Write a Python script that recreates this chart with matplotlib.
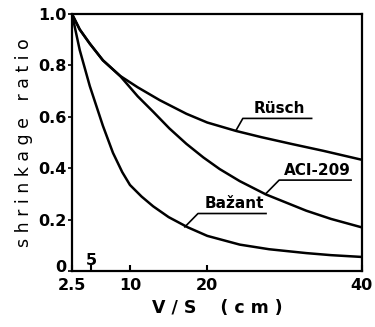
import matplotlib
matplotlib.use("Agg")
import matplotlib.pyplot as plt
from matplotlib.transforms import ScaledTranslation

# Data
rusch_x = [2.5, 3.5, 4.8, 6.5, 8.7, 11.0, 13.85, 17.3, 20.0, 23.75, 27.0, 31.0, 35.0, 40.0]
rusch_y = [1.0, 0.94, 0.885, 0.82, 0.76, 0.715, 0.665, 0.612, 0.578, 0.545, 0.521, 0.494, 0.468, 0.433]

aci_x = [2.5, 3.5, 4.8, 6.5, 8.7, 11.0, 13.0, 15.1, 17.3, 19.5, 21.6, 24.2, 27.6, 32.8, 36.0, 40.0]
aci_y = [1.0, 0.94, 0.885, 0.82, 0.76, 0.68, 0.62, 0.555, 0.495, 0.442, 0.397, 0.35, 0.298, 0.235, 0.203, 0.17]

bazant_x = [2.5, 3.5, 4.8, 6.5, 7.8, 9.0, 10.0, 11.5, 13.0, 15.0, 17.5, 20.0, 24.2, 28.0, 32.8, 36.0, 40.0]
bazant_y = [1.0, 0.86, 0.72, 0.565, 0.46, 0.385, 0.335, 0.29, 0.252, 0.21, 0.17, 0.137, 0.103, 0.085, 0.07, 0.062, 0.055]

xtick_vals = [2.5, 10, 20, 40]
xtick_labels = ["2.5", "10", "20", "40"]
ytick_vals = [0, 0.2, 0.4, 0.6, 0.8, 1.0]
ytick_labels = ["0", "0.2", "0.4", "0.6", "0.8", "1.0"]

# label annotations: (text, curve point, knee point, underline end)
labels = [
    ("Rüsch", (23.75, 0.549), (24.6, 0.594), 33.5),
    ("ACI-209", (27.6, 0.302), (29.3, 0.354), 38.6),
    ("Bažant", (17.1, 0.172), (18.8, 0.224), 27.6),
]

plt.rcParams['font.family'] = ['DejaVu Sans']
fig = plt.figure(figsize=(3.75, 3.27), dpi=100)
ax = fig.add_axes([0.192, 0.171, 0.773, 0.786])

lw = 1.8
for xs, ys in [(rusch_x, rusch_y), (aci_x, aci_y), (bazant_x, bazant_y)]:
    ax.plot(xs, ys, color='black', lw=lw, solid_joinstyle='round')

for txt, p0, p1, xend in labels:
    ax.plot([p0[0], p1[0], xend], [p0[1], p1[1], p1[1]], color='black', lw=1.2)
    ax.text((p1[0] + xend) / 2 + 0.3, p1[1] + 0.008, txt, ha='center', va='bottom',
            fontsize=11, fontweight='bold')

ax.set_xlim(2.5, 40)
ax.set_ylim(0, 1.0)
ax.set_xticks(xtick_vals)
ax.set_xticklabels(xtick_labels, fontsize=11.5, fontweight='bold')
ax.set_yticks(ytick_vals)
ax.set_yticklabels(ytick_labels, fontsize=11.5, fontweight='bold')
ax.tick_params(axis='x', direction='in', length=4, width=1.5, pad=5)
ax.tick_params(axis='y', direction='out', length=3, width=1.2, pad=1)
ax.set_xticks([5], minor=True)
ax.tick_params(axis='x', which='minor', direction='in', length=4, width=1.5)
ax.text(5, 0.012, "5", ha='center', va='bottom', fontsize=11.5, fontweight='bold')

for lab in ax.get_yticklabels():
    if lab.get_text() == "0":
        lab.set_transform(lab.get_transform() + ScaledTranslation(0, 0.05, fig.dpi_scale_trans))

for s in ax.spines.values():
    s.set_linewidth(1.6)

ax.set_ylabel("s h r i n k a g e   r a t i o", fontsize=12.5, labelpad=4)
ax.set_xlabel("V / S    ( c m )", fontsize=12.5, fontweight='bold', labelpad=4)

fig.savefig("out.png", dpi=100)
